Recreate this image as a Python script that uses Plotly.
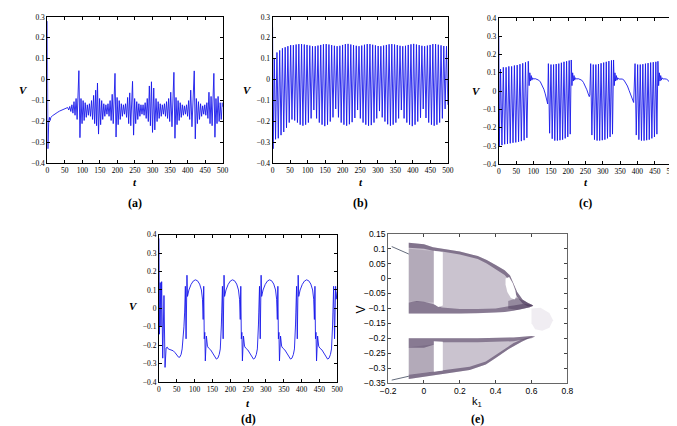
import plotly.graph_objects as go

W, H = 677, 426

# ---------------- panel (a) ----------------
A_t = [0, 1.5, 4, 6, 8, 10, 15, 20, 25, 30, 35, 40, 45, 50, 55,
       58, 61, 64, 67, 70, 73, 76, 79, 82, 85, 90, 93,
       96, 99, 102, 105, 108, 111, 114, 117, 120, 123, 126, 129, 132, 135, 138, 140.5, 143, 146,
       149, 152, 155, 158, 161, 164, 167, 170, 173, 176, 179, 182, 185, 188, 193, 196,
       199, 202, 205, 208, 211, 214, 217, 220, 223, 226, 229, 232, 235, 238, 243, 246,
       249, 252, 255, 258, 261, 264, 267, 270, 273, 276, 279, 282, 285, 288, 291, 294, 297, 300,
       303.5, 306.5, 310, 313, 316, 319, 322, 325, 328, 331, 334, 337, 340, 343, 346, 349, 352, 355.5, 361, 364,
       367, 370, 373, 376, 379, 382, 385, 388, 391, 394, 397, 400, 403, 406, 409, 412.5, 419, 422,
       425, 428, 431, 434, 437, 440, 443, 446, 449, 452, 455, 458, 461, 464, 467, 470, 475, 478,
       481, 484, 487, 490, 493, 496, 499, 500]
A_v = [0.28, -0.33, -0.2, -0.18, -0.195, -0.18, -0.172, -0.165, -0.16, -0.155, -0.15, -0.147, -0.144, -0.141, -0.138,
       -0.133, -0.145, -0.128, -0.152, -0.12, -0.16, -0.105, -0.17, -0.09, -0.19, 0.043, -0.277,
       -0.09, -0.21, -0.1, -0.195, -0.11, -0.18, -0.12, -0.17, -0.115, -0.175, -0.1, -0.19, -0.075, -0.21, -0.05, -0.22, -0.016, -0.26,
       -0.09, -0.215, -0.1, -0.19, -0.115, -0.175, -0.12, -0.165, -0.115, -0.175, -0.1, -0.195, -0.07, -0.21, 0.03, -0.274,
       -0.085, -0.215, -0.1, -0.19, -0.115, -0.175, -0.12, -0.165, -0.115, -0.18, -0.085, -0.21, -0.063, -0.22, -0.008, -0.265,
       -0.09, -0.21, -0.105, -0.19, -0.115, -0.175, -0.12, -0.165, -0.12, -0.17, -0.11, -0.185, -0.09, -0.2, -0.03, -0.22, -0.01, -0.252,
       -0.04, -0.24, -0.09, -0.2, -0.105, -0.185, -0.115, -0.175, -0.12, -0.165, -0.115, -0.175, -0.105, -0.185, -0.09, -0.2, -0.06, -0.225, 0.035, -0.28,
       -0.085, -0.215, -0.1, -0.195, -0.11, -0.18, -0.12, -0.17, -0.125, -0.165, -0.12, -0.175, -0.1, -0.19, -0.05, -0.225, 0.042, -0.283,
       -0.09, -0.21, -0.105, -0.19, -0.115, -0.175, -0.125, -0.165, -0.12, -0.17, -0.11, -0.185, -0.06, -0.21, -0.08, -0.22, 0.03, -0.275,
       -0.09, -0.21, -0.08, -0.2, -0.11, -0.19, -0.11, -0.13]

# ---------------- panel (b) ----------------
B_t = [0, 1.5, 5, 8.5, 12.5, 16.3, 20.3, 24.1, 28.1, 31.9, 35.9, 39.7, 43.7, 47.5, 51.5, 55.3, 59.3,
       63.1, 67.1, 70.9, 74.9, 78.7, 82.7, 86.5, 90.5, 94.3, 98.3, 102.1, 106.1, 109.9, 113.9, 117.7,
       121.7, 125.5, 129.5, 133.3, 137.3, 141.1, 145.1, 148.9, 152.9, 156.7, 160.7, 164.5, 168.5, 172.3,
       176.3, 180.1, 184.1, 187.9, 191.9, 195.7, 199.7, 203.5, 207.5, 211.3, 215.3, 219.1, 223.1, 226.9,
       230.9, 234.7, 238.7, 242.5, 246.5, 250.3, 254.3, 258.1, 262.1, 265.9, 269.9, 273.7, 277.7, 281.5,
       285.5, 289.3, 293.3, 297.1, 301.1, 304.9, 308.9, 312.7, 316.7, 320.5, 324.5, 328.3, 332.3, 336.1,
       340.1, 343.9, 347.9, 351.7, 355.7, 359.5, 363.5, 367.3, 371.3, 375.1, 379.1, 382.9, 386.9, 390.7,
       394.7, 398.5, 402.5, 406.3, 410.3, 414.1, 418.1, 421.9, 425.9, 429.7, 433.7, 437.5, 441.5, 445.3,
       449.3, 453.1, 457.1, 460.9, 464.9, 468.7, 472.7, 476.5, 480.5, 484.3, 488.3, 492.1, 496.1, 499.9]
B_v = [0.25, -0.33, 0.1,
       -0.285, 0.13, -0.28, 0.14, -0.265, 0.15, -0.25, 0.155, -0.23, 0.16, -0.205, 0.165, -0.19, 0.165,
       -0.195, 0.168, -0.205, 0.17, -0.215, 0.17, -0.22, 0.168, -0.215, 0.166, -0.205, 0.163, -0.185, 0.16,
       -0.145, 0.16, -0.185, 0.163, -0.205, 0.166, -0.215, 0.169, -0.222, 0.17, -0.215, 0.168, -0.2, 0.165,
       -0.18, 0.162, -0.14, 0.16, -0.18, 0.162, -0.205, 0.166, -0.215, 0.17, -0.22, 0.171, -0.213, 0.168,
       -0.203, 0.165, -0.183, 0.162, -0.145, 0.16, -0.185, 0.163, -0.205, 0.167, -0.215, 0.17, -0.22, 0.17,
       -0.217, 0.167, -0.205, 0.164, -0.185, 0.161, -0.15, 0.16, -0.18, 0.163, -0.2, 0.166, -0.213, 0.169,
       -0.22, 0.17, -0.215, 0.168, -0.205, 0.165, -0.185, 0.162, -0.145, 0.16, -0.185, 0.162, -0.205, 0.166,
       -0.215, 0.169, -0.222, 0.171, -0.215, 0.168, -0.2, 0.165, -0.182, 0.162, -0.14, 0.16, -0.183, 0.163,
       -0.205, 0.166, -0.215, 0.17, -0.22, 0.17, -0.215, 0.167, -0.205, 0.164, -0.185, 0.161, -0.14, 0.16,
       -0.12]

# ---------------- panel (c) ----------------
C_t = [0, 1.5,
       5, 9, 13, 17, 21, 25, 29, 33, 37, 41, 45, 49, 53, 57, 61, 65, 69, 73, 77, 81, 85,
       87.5, 89.5, 91.5, 93.5, 95.5, 97.5, 100,
       105, 110, 115, 120, 125, 130, 134, 138, 141,
       143, 146.5, 150.5, 154, 158, 161.5, 165.5, 169, 173, 176.5, 180.5, 184, 188, 191.5, 195.5, 199, 203, 206, 209,
       211, 213, 215, 217, 219, 221, 224,
       229, 234, 239, 244, 249, 254, 258, 261, 262.5,
       265, 268.5, 272.5, 276, 280, 283.5, 287.5, 291, 295, 298.5, 302.5, 306, 310, 313.5, 317.5, 321, 325, 328, 331,
       333, 335, 337, 339, 341, 343, 346,
       351, 356, 361, 366, 371, 376, 381, 385, 389,
       393, 396.5, 400.5, 404, 408, 411.5, 415.5, 419, 423, 426.5, 430.5, 434, 438, 441.5, 445.5, 449, 453, 456, 459,
       461, 463, 465, 467, 469, 471, 474,
       479, 484, 489, 494, 500]
C_v = [0.3, -0.3,
       0.12, -0.295, 0.13, -0.29, 0.13, -0.288, 0.135, -0.285, 0.135, -0.282, 0.14, -0.28, 0.142, -0.277,
       0.147, -0.273, 0.152, -0.268, 0.157, -0.255, 0.163,
       0.03, 0.1, 0.055, 0.085, 0.06, 0.073, 0.066,
       0.068, 0.066, 0.06, 0.05, 0.033, 0.01, -0.015, -0.045, -0.07,
       0.15, -0.23, 0.145, -0.26, 0.145, -0.27, 0.148, -0.27, 0.15, -0.268, 0.155, -0.265, 0.16, -0.258,
       0.163, -0.25, 0.167, -0.235, 0.17,
       0.03, 0.1, 0.055, 0.085, 0.06, 0.073, 0.066,
       0.068, 0.066, 0.06, 0.048, 0.03, 0.007, -0.015, -0.03, -0.02,
       0.15, -0.24, 0.145, -0.265, 0.145, -0.27, 0.148, -0.27, 0.152, -0.268, 0.156, -0.265, 0.16, -0.258,
       0.164, -0.25, 0.168, -0.235, 0.17,
       0.03, 0.1, 0.055, 0.085, 0.06, 0.073, 0.066,
       0.068, 0.066, 0.06, 0.047, 0.028, 0.003, -0.025, -0.045, -0.062,
       0.15, -0.24, 0.145, -0.265, 0.145, -0.27, 0.147, -0.27, 0.15, -0.268, 0.153, -0.265, 0.156, -0.258,
       0.158, -0.25, 0.16, -0.235, 0.163,
       0.03, 0.1, 0.055, 0.085, 0.06, 0.073, 0.066,
       0.067, 0.065, 0.058, 0.047, 0.028]

# ---------------- panel (d) ----------------
D_t = [0, 1.5, 3.5, 5.5, 7.5, 10.5, 14, 17, 20, 23, 26, 30, 35, 40, 45, 50, 55, 58, 62, 65, 68, 70, 72,
       74, 76, 78.5, 80, 84, 90, 96, 102, 108, 114, 119, 122, 124, 125.5, 127, 128.5, 130, 133, 136, 139,
       145, 151, 157, 161, 165, 169, 172, 174, 175, 176,
       178, 180, 182.5, 184, 188, 194, 200, 206, 212, 218, 223, 226, 228, 229.5, 231, 232.5, 234, 237, 240, 243,
       249, 255, 261, 265, 269, 273, 276, 278, 279, 280,
       282, 284, 286.5, 288, 292, 298, 304, 310, 316, 322, 327, 330, 332, 333.5, 335, 336.5, 338, 341, 344, 347,
       353, 359, 365, 369, 373, 377, 380, 382, 383, 384,
       386, 388, 390.5, 392, 396, 402, 408, 414, 420, 426, 431, 434, 436, 437.5, 439, 440.5, 442, 445, 448, 451,
       457, 463, 469, 473, 477, 481, 484, 486, 487, 488,
       490, 492.5, 495.5, 497, 500]
D_v = [0.38, -0.14, 0.14, -0.1, 0.145, -0.27, 0.07, -0.32, -0.215, -0.21, -0.22, -0.222, -0.224, -0.23, -0.24,
       -0.255, -0.265, -0.265, -0.25, -0.22, -0.16, -0.1, -0.02,
       0.12, -0.165, 0.18, 0.065, 0.1, 0.13, 0.148, 0.155, 0.15, 0.132, 0.1, 0.05, -0.06, 0.12, -0.165, -0.13,
       -0.285, -0.15, -0.205, -0.215, -0.225, -0.245, -0.265, -0.275, -0.27, -0.25, -0.22, -0.16, -0.09, -0.02,
       0.12, -0.165, 0.18, 0.065, 0.1, 0.13, 0.148, 0.155, 0.15, 0.132, 0.1, 0.05, -0.06, 0.12, -0.165, -0.13,
       -0.285, -0.15, -0.205, -0.215, -0.225, -0.245, -0.265, -0.275, -0.27, -0.25, -0.22, -0.16, -0.09, -0.02,
       0.12, -0.165, 0.18, 0.065, 0.1, 0.13, 0.148, 0.155, 0.15, 0.132, 0.1, 0.05, -0.06, 0.12, -0.165, -0.13,
       -0.285, -0.15, -0.205, -0.215, -0.225, -0.245, -0.265, -0.275, -0.27, -0.25, -0.22, -0.16, -0.09, -0.02,
       0.12, -0.165, 0.18, 0.065, 0.1, 0.13, 0.148, 0.155, 0.15, 0.132, 0.1, 0.05, -0.06, 0.12, -0.165, -0.13,
       -0.285, -0.15, -0.205, -0.215, -0.225, -0.245, -0.265, -0.275, -0.27, -0.25, -0.22, -0.16, -0.09, -0.02,
       0.12, -0.165, 0.12, 0.05, 0.09]

# ---------------- panel (e): outlines of the point clouds ----------------
EU_k = [-0.085, 0.0, 0.05, 0.1, 0.2, 0.3, 0.35, 0.4, 0.45, 0.48, 0.5, 0.52, 0.55, 0.58, 0.61,
        0.59, 0.55, 0.5, 0.45, 0.4, 0.3, 0.2, 0.1, 0.0, -0.085]
EU_v = [0.12, 0.115, 0.105, 0.1, 0.09, 0.075, 0.062, 0.045, 0.028, 0.01, -0.015, -0.045, -0.07, -0.082, -0.09,
        -0.096, -0.102, -0.108, -0.112, -0.114, -0.116, -0.117, -0.117, -0.117, -0.117]
EUT_k = [-0.085, 0.0, 0.05, 0.1, 0.2, 0.3, 0.35, 0.4, 0.45, 0.48, 0.5, 0.52, 0.55, 0.58, 0.61,
         0.58, 0.55, 0.52, 0.5, 0.48, 0.45, 0.4, 0.35, 0.3, 0.2, 0.1, 0.05, 0.0, -0.085]
EUT_v = [0.12, 0.115, 0.105, 0.1, 0.09, 0.075, 0.062, 0.045, 0.028, 0.01, -0.015, -0.045, -0.07, -0.082, -0.09,
         -0.094, -0.084, -0.062, -0.035, -0.008, 0.012, 0.032, 0.05, 0.065, 0.08, 0.09, 0.093, 0.1, 0.103]
EUB_k = [-0.085, -0.04, 0.0, 0.05, 0.1, 0.2, 0.3, 0.4, 0.5, 0.55, 0.6, 0.61,
         0.59, 0.55, 0.5, 0.45, 0.4, 0.3, 0.2, 0.1, 0.0, -0.085]
EUB_v = [-0.08, -0.075, -0.078, -0.085, -0.097, -0.102, -0.102, -0.1, -0.09, -0.085, -0.088, -0.092,
         -0.096, -0.102, -0.108, -0.112, -0.114, -0.116, -0.117, -0.117, -0.117, -0.117]
EUL_k = [-0.085, 0.055, 0.055, -0.085]
EUL_v = [0.1, 0.092, -0.08, -0.078]
EUTIP_k = [0.47, 0.52, 0.56, 0.61, 0.59, 0.52, 0.47]
EUTIP_v = [-0.075, -0.065, -0.075, -0.09, -0.096, -0.105, -0.1]
EL_k = [-0.085, 0.1, 0.3, 0.5, 0.6, 0.62, 0.6, 0.545, 0.5, 0.473, 0.4, 0.345, 0.255, 0.15, 0.073, 0.0, -0.085]
EL_v = [-0.2, -0.2, -0.2, -0.197, -0.192, -0.194, -0.197, -0.212, -0.228, -0.236, -0.266, -0.288, -0.306,
        -0.315, -0.321, -0.328, -0.336]
ELT_k = [-0.085, 0.1, 0.3, 0.5, 0.6, 0.62, 0.6, 0.5, 0.3, 0.1, 0.05, 0.0, -0.085]
ELT_v = [-0.2, -0.2, -0.2, -0.197, -0.192, -0.194, -0.2, -0.21, -0.213, -0.213, -0.222, -0.232, -0.232]
ELB_k = [-0.085, 0.0, 0.073, 0.15, 0.255, 0.345, 0.4, 0.473, 0.5, 0.545, 0.6,
         0.545, 0.5, 0.473, 0.4, 0.345, 0.255, 0.15, 0.073, 0.0, -0.085]
ELB_v = [-0.322, -0.315, -0.31, -0.304, -0.295, -0.278, -0.256, -0.225, -0.216, -0.204, -0.195,
         -0.212, -0.228, -0.236, -0.266, -0.288, -0.306, -0.315, -0.321, -0.328, -0.336]
ELL_k = [-0.085, 0.055, 0.055, -0.085]
ELL_v = [-0.23, -0.22, -0.31, -0.322]
EWU_k = [0.055, 0.105, 0.105, 0.08, 0.055]
EWU_v = [0.093, 0.088, -0.09, -0.095, -0.085]
EWL_k = [0.055, 0.105, 0.105, 0.055]
EWL_v = [-0.21, -0.212, -0.308, -0.312]
EEYE_k = [0.455, 0.475, 0.495, 0.51, 0.515, 0.505, 0.485, 0.465, 0.455]
EEYE_v = [0.0, 0.005, -0.015, -0.04, -0.06, -0.07, -0.065, -0.045, -0.02]
ECL_k = [0.6, 0.65, 0.7, 0.72, 0.7, 0.66, 0.62, 0.6]
ECL_v = [-0.1, -0.098, -0.115, -0.14, -0.165, -0.175, -0.17, -0.15]
EP1_k = [-0.18, -0.085]
EP1U_v = [0.107, 0.082]
EP1L_v = [-0.34, -0.327]

fig = go.Figure()

blue = dict(color='rgb(25,25,235)', width=0.9)
for xs, ys, ax in [(A_t, A_v, ''), (B_t, B_v, '2'), (C_t, C_v, '3'), (D_t, D_v, '4')]:
    fig.add_trace(go.Scatter(x=xs, y=ys, mode='lines', line=blue, xaxis='x' + ax, yaxis='y' + ax,
                             showlegend=False, hoverinfo='skip'))

def poly(xs, ys, fillcolor):
    fig.add_trace(go.Scatter(x=xs, y=ys, mode='lines', fill='toself', fillcolor=fillcolor,
                             line=dict(width=0), xaxis='x5', yaxis='y5', showlegend=False,
                             hoverinfo='skip'))

poly(EU_k, EU_v, 'rgba(150,135,160,0.5)')
poly(EL_k, EL_v, 'rgba(150,135,160,0.5)')
poly(EUL_k, EUL_v, 'rgba(110,95,120,0.25)')
poly(ELL_k, ELL_v, 'rgba(110,95,120,0.25)')
poly(EUT_k, EUT_v, 'rgba(70,50,85,0.55)')
poly(EUB_k, EUB_v, 'rgba(70,50,85,0.5)')
poly(EUTIP_k, EUTIP_v, 'rgba(70,50,85,0.4)')
poly(ELT_k, ELT_v, 'rgba(70,50,85,0.5)')
poly(ELB_k, ELB_v, 'rgba(70,50,85,0.55)')
poly(EWU_k, EWU_v, 'white')
poly(EWL_k, EWL_v, 'white')
poly(EEYE_k, EEYE_v, 'white')
poly(ECL_k, ECL_v, 'rgba(185,172,198,0.22)')
for ys in (EP1U_v, EP1L_v):
    fig.add_trace(go.Scatter(x=EP1_k, y=ys, mode='lines', line=dict(color='rgb(60,70,90)', width=0.8),
                             xaxis='x5', yaxis='y5', showlegend=False, hoverinfo='skip'))

serif = 'Liberation Serif'
sans = 'Liberation Sans'

def xax(d0, d1, anchor, rng, dtick, font):
    return dict(domain=[d0 / W, d1 / W], anchor=anchor, range=rng, dtick=dtick, tick0=rng[0],
                ticks='inside', ticklen=3, tickcolor='black', mirror='allticks', showline=True,
                linecolor='black', linewidth=1, showgrid=False, zeroline=False,
                tickfont=font, fixedrange=True)

def yax(p0, p1, anchor, rng, dtick, font):
    return dict(domain=[1 - p1 / H, 1 - p0 / H], anchor=anchor, range=rng, dtick=dtick, tick0=0,
                ticks='inside', ticklen=3, tickcolor='black', mirror='allticks', showline=True,
                linecolor='black', linewidth=1, showgrid=False, zeroline=False,
                tickfont=font, fixedrange=True)

tf = dict(family=serif, size=7.5, color='black')
ef = dict(family=sans, size=8.5, color='black')

layout = dict(
    width=W, height=H, margin=dict(l=0, r=0, t=0, b=0),
    paper_bgcolor='white', plot_bgcolor='white', showlegend=False,
    xaxis=xax(32, 211, 'y', [0, 500], 50, tf), yaxis=yax(4, 154, 'x', [-0.4, 0.3], 0.1, tf),
    xaxis2=xax(262, 441, 'y2', [0, 500], 50, tf), yaxis2=yax(4, 154, 'x2', [-0.4, 0.3], 0.1, tf),
    xaxis3=xax(493, 670, 'y3', [0, 500], 50, tf), yaxis3=yax(5, 155, 'x3', [-0.4, 0.4], 0.1, tf),
    xaxis4=xax(146, 328, 'y4', [0, 500], 50, tf), yaxis4=yax(227, 378, 'x4', [-0.4, 0.4], 0.1, tf),
    xaxis5=xax(380, 563, 'y5', [-0.2, 0.8], 0.2, ef), yaxis5=yax(226, 379, 'x5', [-0.35, 0.15], 0.05, ef),
)
layout['xaxis5'].update(linecolor='#666', tickcolor='#444')
layout['yaxis5'].update(linecolor='#666', tickcolor='#444')

ann = []
def note(text, px, py, font, angle=0):
    ann.append(dict(text=text, x=px / W, y=1 - py / H, xref='paper', yref='paper', showarrow=False,
                    xanchor='center', yanchor='middle', font=font, textangle=angle))

lab = dict(family=serif, size=11, color='black')
cap = dict(family=serif, size=12, color='black')
for cx, vx, vy, ty, cy, c in [(122, 8, 79, 173, 195, 'a'), (352, 236, 79, 173, 195, 'b'),
                              (582, 470, 80, 173, 195, 'c'), (237, 120, 300, 399, 416, 'd')]:
    note('<b><i>V</i></b>', vx, vy, lab)
    note('<b><i>t</i></b>', cx, ty, lab)
    note('<b>(' + c + ')</b>', cx, cy, cap)
note('V', 352, 304, dict(family=sans, size=12, color='black'), -90)
note('k<sub>1</sub>', 471, 398, dict(family=sans, size=11, color='black'))
note('<b>(e)</b>', 471, 416, cap)
layout['annotations'] = ann

fig.update_layout(**layout)
fig.write_html('out.html')
